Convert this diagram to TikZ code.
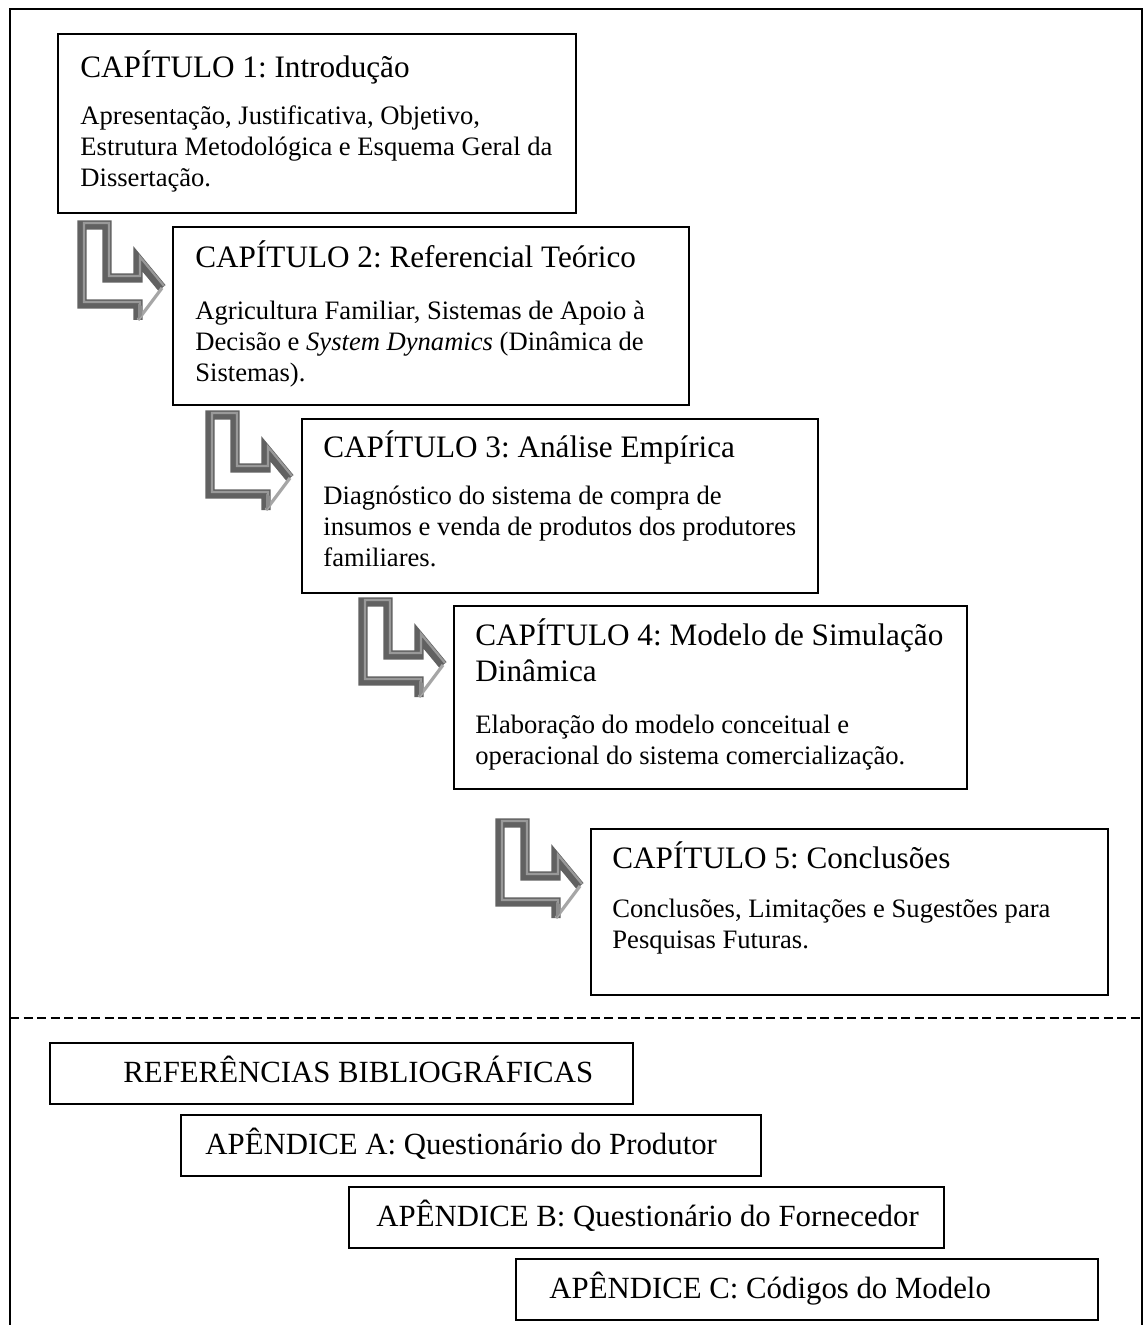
\documentclass[tikz,border=0pt]{standalone}
\usepackage{fontspec}
\setmainfont{Liberation Serif}
\frenchspacing
% one drawing unit = 0.5pt, y grows downwards
\newcommand\chbox[5]{%
  \node[box, anchor=north west, minimum width={(#4-#2)*0.5pt},
        minimum height={(#5-#3)*0.5pt}] (#1) at (#2,#3) {};}
\begin{document}
\begin{tikzpicture}[x=0.5pt,y=-0.5pt,
  box/.style={draw=black, line width=1pt, inner sep=0pt, fill=white},
  ttl/.style={anchor=base west, inner sep=0pt, font=\fontsize{15.6}{18}\selectfont},
  txt/.style={anchor=base west, inner sep=0pt, font=\fontsize{13.3}{15.5}\selectfont},
  app/.style={anchor=base west, inner sep=0pt, font=\fontsize{15.4}{18}\selectfont},
  bent/.pic={
    \path[fill=white] (-80,-63) -- (-55,-63) -- (-55,-10) -- (-24,-10) -- (-24,-29)
      -- (0,0) -- (-24,32) -- (-24,16) -- (-80,16) -- cycle;
    % extruded side faces
    \draw[line width=4.6pt, draw=black!62, line join=miter, line cap=butt]
      (-24,32) -- (-24,16) -- (-80,16) -- (-80,-63) -- (-55,-63) -- (-55,-10)
      -- (-24,-10) -- (-24,-29) -- (0,0);
    % bevel highlight
    \draw[line width=1.1pt, draw=black!40, line join=miter, shift={(2,-2)}]
      (-24,32) -- (-24,16) -- (-80,16) -- (-80,-63) -- (-55,-63) -- (-55,-10)
      -- (-24,-10) -- (-24,-29) -- (0,0);
    % lit lower face of the head
    \draw[line width=1.6pt, draw=black!35] (0,0) -- (-24,32);
    \fill[black!45] (-24,32) -- (-20,27) -- (-20,18) -- (-24,16) -- cycle;
  }
]
\useasboundingbox (0,0) rectangle (1145,1325);

% outer frame, open at the bottom
\draw[line width=1.2pt] (10,1325) -- (10,9) -- (1142,9) -- (1142,1325);

% chapter boxes
\chbox{c1}{57}{33}{575}{212}
\node[ttl] (c1h) at (80,78) {CAPÍTULO 1: Introdução};
\node[txt] (c1b) at (80,125) {\parbox[t]{300pt}{Apresentação, Justificativa, Objetivo,\\
  Estrutura Metodológica e Esquema Geral da\\ Dissertação.}};

\chbox{c2}{172}{226}{688}{404}
\node[ttl] (c2h) at (195,268) {CAPÍTULO 2: Referencial Teórico};
\node[txt] (c2b) at (195,320) {\parbox[t]{300pt}{Agricultura Familiar, Sistemas de Apoio à\\
  Decisão e \textit{System Dynamics} (Dinâmica de\\ Sistemas).}};

\chbox{c3}{301}{418}{817}{592}
\node[ttl] (c3h) at (323,458) {CAPÍTULO 3: Análise Empírica};
\node[txt] (c3b) at (323,504) {\parbox[t]{300pt}{Diagnóstico do sistema de compra de\\
  insumos e venda de produtos dos produtores\\ familiares.}};

\chbox{c4}{453}{605}{966}{788}
\node[ttl] (c4h) at (475,645) {\parbox[t]{300pt}{\baselineskip=18pt CAPÍTULO 4: Modelo de Simulação\\ Dinâmica}};
\node[txt] (c4b) at (475,733) {\parbox[t]{300pt}{Elaboração do modelo conceitual e\\
  operacional do sistema comercialização.}};

\chbox{c5}{590}{828}{1107}{994}
\node[ttl] (c5h) at (612,868) {CAPÍTULO 5: Conclusões};
\node[txt] (c5b) at (612,917) {\parbox[t]{300pt}{Conclusões, Limitações e Sugestões para\\
  Pesquisas Futuras.}};

% bent arrows leading from one chapter to the next
\pic (a1) at (162,288) {bent};
\pic (a2) at (290,478) {bent};
\pic (a3) at (443,665) {bent};
\pic (a4) at (580,886) {bent};

% separator
\draw[line width=1pt, dash pattern=on 4.5pt off 2.25pt] (10,1018) -- (1142,1018);

% back matter
\chbox{ref}{49}{1042}{632}{1103}
\node[app] (reft) at (123,1082) {REFERÊNCIAS BIBLIOGRÁFICAS};
\chbox{apa}{180}{1114}{760}{1175}
\node[app] (apat) at (205,1154) {APÊNDICE A: Questionário do Produtor};
\chbox{apb}{348}{1186}{943}{1247}
\node[app] (apbt) at (376,1226) {APÊNDICE B: Questionário do Fornecedor};
\chbox{apc}{515}{1258}{1097}{1319}
\node[app] (apct) at (549,1298) {APÊNDICE C: Códigos do Modelo};
\end{tikzpicture}
\end{document}
